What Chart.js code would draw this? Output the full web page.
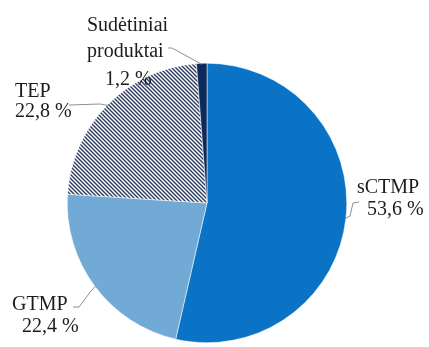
<!DOCTYPE html>
<html>
<head>
<meta charset="utf-8">
<script src="https://cdn.jsdelivr.net/npm/chart.js@4.4.0/dist/chart.umd.min.js"></script>
<style>
  html, body { margin: 0; padding: 0; background: #fff; }
  #wrap { width: 429px; height: 347px; }
</style>
</head>
<body>
<div id="wrap"><canvas id="pie"></canvas></div>
<script>
const categories = ["sCTMP", "GTMP", "TEP", "Sudėtiniai produktai"]
const shares = [53.6, 22.4, 22.8, 1.2]

// label placement: text lines (left x, baseline y) and leader elbow points
const labelLayout = [
  { lines: [["sCTMP", 357, 193], ["{v}", 367, 215]], leader: [[350, 216], [353, 203], [359, 202]] },
  { lines: [["GTMP", 12, 310], ["{v}", 22, 332]], leader: [[91, 291], [79, 307], [73, 307]] },
  { lines: [["TEP", 15, 97], ["{v}", 15, 117]], leader: [[100, 104], [69, 105]] },
  { lines: [["Sudėtiniai", 87, 31], ["produktai", 87, 57], ["{v}", 105, 85]], leader: [[172, 48], [168, 48]] },
]

function hatch() {
  const c = document.createElement("canvas")
  c.width = 4
  c.height = 4
  const g = c.getContext("2d")
  g.fillStyle = "#ffffff"
  g.fillRect(0, 0, 4, 4)
  g.strokeStyle = "#2c3b60"
  g.lineWidth = 1.4
  g.beginPath()
  g.moveTo(-1, -1); g.lineTo(5, 5)
  g.moveTo(-1, 3); g.lineTo(1, 5)
  g.moveTo(3, -1); g.lineTo(5, 1)
  g.stroke()
  return g.createPattern(c, "repeat")
}

const fmt = (v) => v.toFixed(1).replace(".", ",") + " %"

const outsideLabels = {
  id: "outsideLabels",
  afterDraw(chart) {
    const ctx = chart.ctx
    const arcs = chart.getDatasetMeta(0).data
    ctx.save()
    arcs.forEach((arc, i) => {
      const lay = labelLayout[i]
      const mid = (arc.startAngle + arc.endAngle) / 2
      const r = arc.outerRadius - 1
      ctx.strokeStyle = "#8f8f8f"
      ctx.lineWidth = 1
      ctx.beginPath()
      ctx.moveTo(arc.x + Math.cos(mid) * r, arc.y + Math.sin(mid) * r)
      lay.leader.forEach(([x, y]) => ctx.lineTo(x, y))
      ctx.stroke()

      ctx.fillStyle = "#1c1c1c"
      ctx.font = "20px 'Liberation Serif', 'Times New Roman', serif"
      ctx.textAlign = "left"
      ctx.textBaseline = "alphabetic"
      lay.lines.forEach(([t, x, y]) => {
        ctx.fillText(t === "{v}" ? fmt(shares[i]) : t, x, y)
      })
    })
    ctx.restore()
  },
}

const ctx = document.getElementById("pie").getContext("2d")
new Chart(ctx, {
  type: "pie",
  data: {
    labels: categories,
    datasets: [
      {
        data: shares,
        backgroundColor: ["#0a73c6", "#72aad6", hatch(), "#0d2a5c"],
        borderColor: "#ffffff",
        borderWidth: 0.5,
      },
    ],
  },
  options: {
    responsive: true,
    maintainAspectRatio: false,
    animation: false,
    layout: {
      padding: { top: 63, bottom: 4, left: 67, right: 82 },
    },
    plugins: {
      legend: { display: false },
      tooltip: { enabled: false },
    },
  },
  plugins: [outsideLabels],
})
</script>
</body>
</html>
